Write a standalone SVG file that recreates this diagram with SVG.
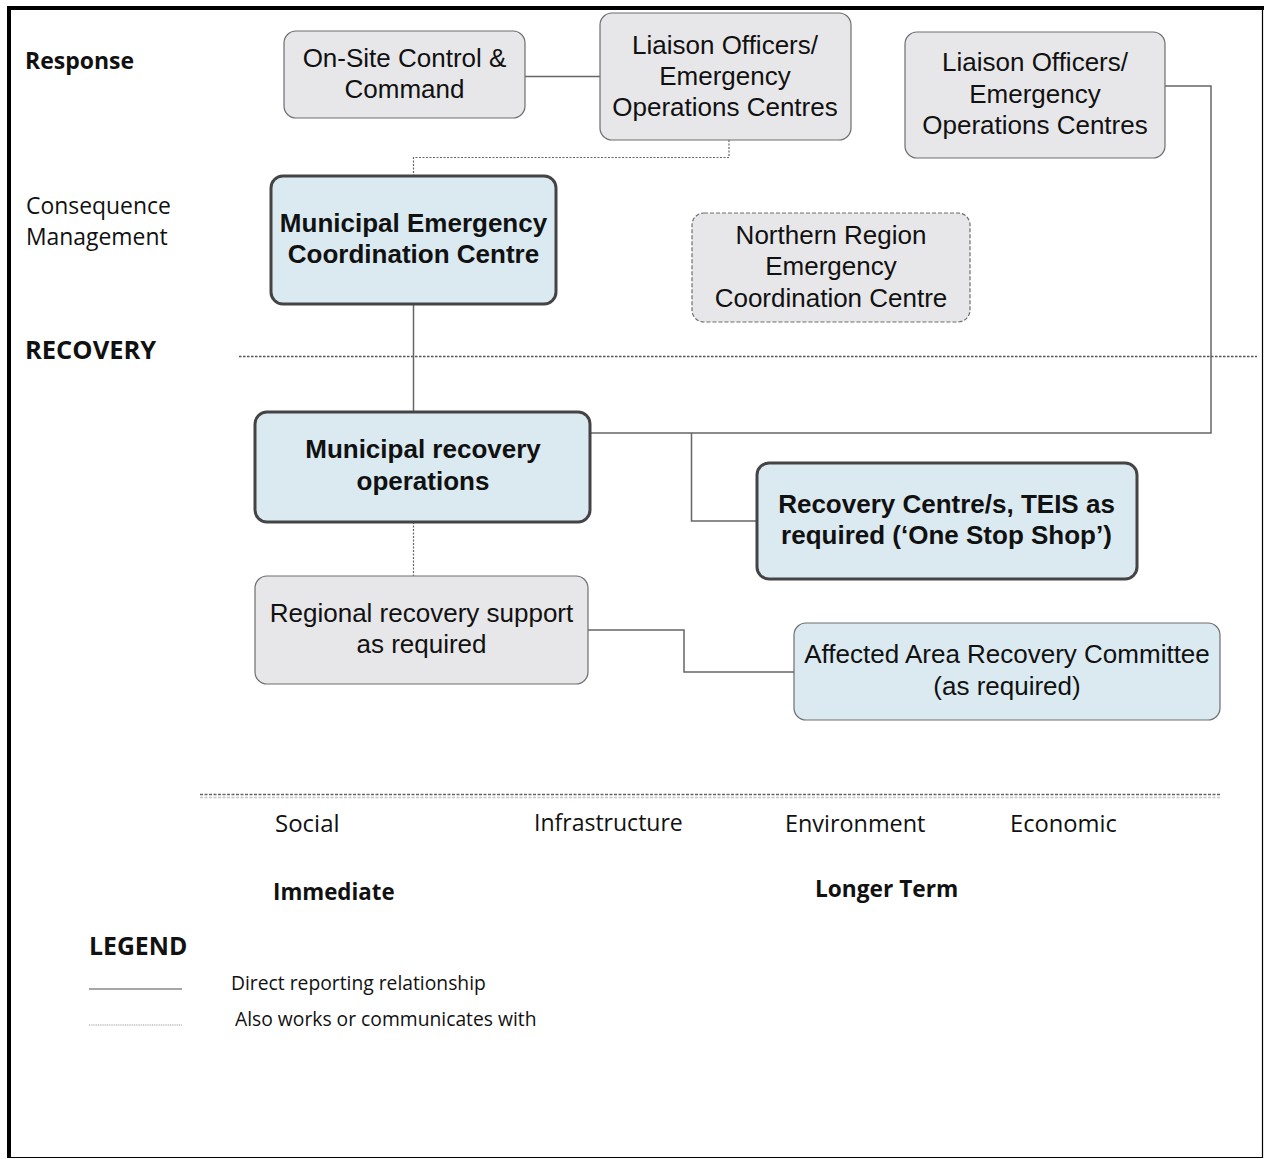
<svg xmlns="http://www.w3.org/2000/svg" width="1264" height="1159" viewBox="0 0 1264 1159">
<style>
.box{fill:#e7e7e9;stroke:#6e6e70;stroke-width:1.2}
.boxd{fill:#e7e7e9;stroke:#6e6e70;stroke-width:1.2;stroke-dasharray:4,2}
.blue{fill:#dbeaf0;stroke:#444447;stroke-width:3}
.bluet{fill:#dbeaf0;stroke:#6e6e70;stroke-width:1.2}
.t{font-family:"Liberation Sans",Arial,sans-serif;font-size:26px;fill:#111;text-anchor:middle}
.tb{font-family:"Liberation Sans",Arial,sans-serif;font-size:26px;font-weight:bold;fill:#111;text-anchor:middle}
.lab{font-family:"Open Sans","Noto Sans",sans-serif;font-size:23px;fill:#111}
.labb{font-family:"Open Sans","Noto Sans",sans-serif;font-size:22.5px;font-weight:bold;fill:#111}
.leg{font-family:"Open Sans","Noto Sans",sans-serif;font-size:19.3px;fill:#111}
.c{fill:none;stroke:#666;stroke-width:1.5}
.cd{fill:none;stroke:#666;stroke-width:1.2;stroke-dasharray:2,1.5}
</style>
<rect x="0" y="0" width="1264" height="1159" fill="#fff"/>
<g id="frame">
<path d="M1262.5 8 V1157.5 H9" fill="none" stroke="#000" stroke-width="1.2"/>
<path d="M7 8 H1264" stroke="#000" stroke-width="4"/>
<path d="M9 6 V1158" stroke="#000" stroke-width="4"/>
</g>
<g id="labels">
<text class="labb" x="25" y="69" style="font-size:23px">Response</text>
<text class="lab" x="26" y="214" style="font-size:22.9px">Consequence</text>
<text class="lab" x="26" y="245" style="font-size:22.9px">Management</text>
<text class="labb" x="25" y="359" style="font-size:25.5px">RECOVERY</text>
<text class="lab" x="275" y="832" style="font-size:24px">Social</text>
<text class="lab" x="534" y="831">Infrastructure</text>
<text class="lab" x="785" y="832" style="font-size:23.4px">Environment</text>
<text class="lab" x="1010" y="832" style="font-size:23.7px">Economic</text>
<text class="labb" x="273" y="900" style="font-size:22.3px">Immediate</text>
<text class="labb" x="815" y="897" style="font-size:22.7px">Longer Term</text>
<text class="labb" x="89" y="955" style="font-size:24.8px">LEGEND</text>
<text class="leg" x="231" y="990">Direct reporting relationship</text>
<text class="leg" x="235" y="1026">Also works or communicates with</text>
</g>
<g id="dividers">
<path d="M239 356.5 H1257" fill="none" stroke="#555" stroke-width="1.3" stroke-dasharray="2.5,1.5"/>
<path d="M200 794.5 H1220" fill="none" stroke="#666" stroke-width="1.3" stroke-dasharray="3,1.5"/>
<path d="M200 797.5 H1220" fill="none" stroke="#c8c8c8" stroke-width="1.3" stroke-dasharray="3,1.5"/>
<path d="M89 989 H182" fill="none" stroke="#888" stroke-width="1.3"/>
<path d="M89 1025 H182" fill="none" stroke="#999" stroke-width="1.2" stroke-dasharray="1,0.8"/>
</g>
<g id="connectors">
<path class="c" d="M525 76.5 H600"/>
<path class="cd" d="M729 140 V157.5 H413.5 V176"/>
<path class="c" d="M1165 86 H1211 V433 H590"/>
<path class="c" d="M691.5 433 V521 H757"/>
<path class="c" d="M413.5 304 V412"/>
<path class="cd" d="M413.5 522 V576"/>
<path class="c" d="M588 630 H684 V672 H794"/>
</g>
<g id="onsite">
<rect class="box" x="284" y="31" width="241" height="87" rx="12"/>
<text class="t" x="404.5" y="67">On-Site Control &amp;</text>
<text class="t" x="404.5" y="98">Command</text>
</g>
<g id="liaison1">
<rect class="box" x="600" y="13" width="251" height="127" rx="12"/>
<text class="t" x="725" y="54">Liaison Officers/</text>
<text class="t" x="725" y="85">Emergency</text>
<text class="t" x="725" y="116">Operations Centres</text>
</g>
<g id="liaison2">
<rect class="box" x="905" y="32" width="260" height="126" rx="12"/>
<text class="t" x="1035" y="71">Liaison Officers/</text>
<text class="t" x="1035" y="103">Emergency</text>
<text class="t" x="1035" y="134">Operations Centres</text>
</g>
<g id="mecc">
<rect class="blue" x="271" y="176" width="285" height="128" rx="12"/>
<text class="tb" x="413.5" y="232">Municipal Emergency</text>
<text class="tb" x="413.5" y="263">Coordination Centre</text>
</g>
<g id="northern">
<rect class="boxd" x="692" y="213" width="278" height="109" rx="12"/>
<text class="t" x="831" y="244">Northern Region</text>
<text class="t" x="831" y="275">Emergency</text>
<text class="t" x="831" y="307">Coordination Centre</text>
</g>
<g id="municipal-recovery">
<rect class="blue" x="255" y="412" width="335" height="110" rx="12"/>
<text class="tb" x="423" y="458">Municipal recovery</text>
<text class="tb" x="423" y="490">operations</text>
</g>
<g id="recovery-centre">
<rect class="blue" x="757" y="463" width="380" height="116" rx="12"/>
<text class="tb" x="946.5" y="513">Recovery Centre/s, TEIS as</text>
<text class="tb" x="946.5" y="544">required (‘One Stop Shop’)</text>
</g>
<g id="regional">
<rect class="box" x="255" y="576" width="333" height="108" rx="12"/>
<text class="t" x="421.5" y="622">Regional recovery support</text>
<text class="t" x="421.5" y="653">as required</text>
</g>
<g id="aarc">
<rect class="bluet" x="794" y="623" width="426" height="97" rx="12"/>
<text class="t" x="1007" y="663">Affected Area Recovery Committee</text>
<text class="t" x="1007" y="695">(as required)</text>
</g>
</svg>
